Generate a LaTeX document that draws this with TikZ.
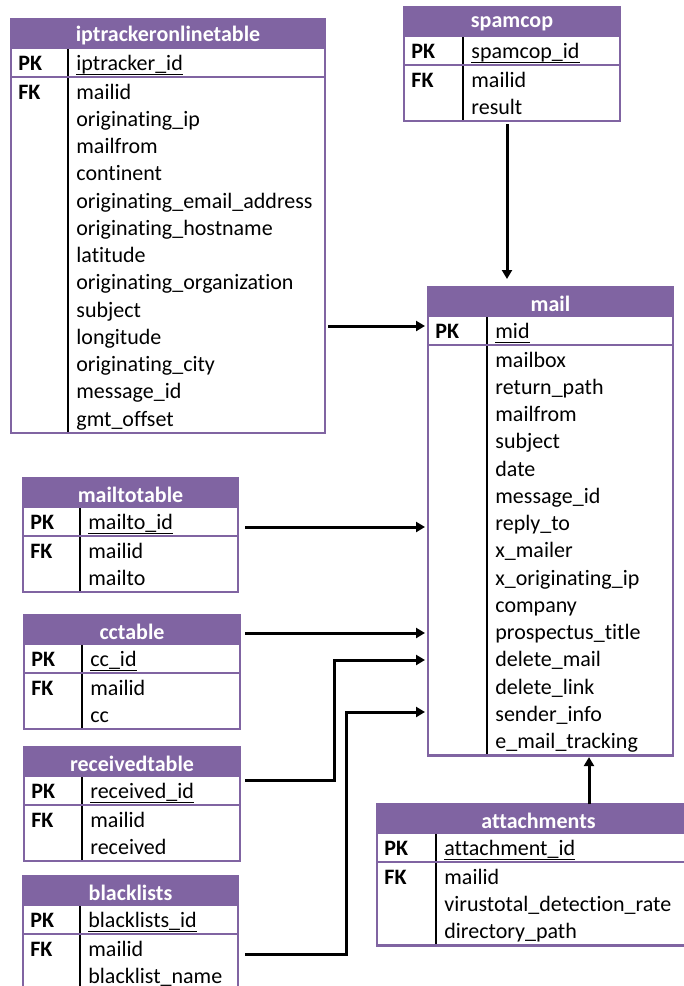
\documentclass[tikz,border=0pt]{standalone}
\usepackage{fontspec}
\setmainfont[Ligatures={NoCommon}]{Carlito}
\usetikzlibrary{arrows.meta,fit}
\definecolor{erdpurple}{HTML}{8064A2}
\newcommand{\erdul}[1]{\setbox0\hbox{#1}\rlap{\rule[-2.4pt]{\wd0}{0.75pt}}\box0}
\tikzset{
 frame/.style={draw=erdpurple, line width=1.2pt},
 divline/.style={draw=black, line width=0.7pt},
 title/.style={text=white, font=\fontsize{11}{13}\selectfont\bfseries, inner sep=0pt},
 keylbl/.style={font=\fontsize{11}{13}\selectfont\bfseries, anchor=west, inner sep=0pt, text height=9.5pt, text depth=2.5pt},
 field/.style={font=\fontsize{11}{13}\selectfont, anchor=west, inner sep=0pt, text height=9.5pt, text depth=2.5pt},
 arr/.style={draw=black, line width=1.5pt, -{Triangle[length=4.5pt,width=5pt]}},
 tbl/.style={inner sep=0pt, outer sep=0pt, draw=none},
}
% name, left, top, right, divider, title, pk, rows, nrows
\newcommand{\erdtable}[9]{%
 \pgfmathsetmacro{\eb}{#3+73+(#9-1)*27.25+14}%
 \pgfmathsetmacro{\ehb}{#3+30}%
 \pgfmathsetmacro{\epk}{#3+58}%
 \pgfmathsetmacro{\epkc}{#3+44.5}%
 \pgfmathsetmacro{\emid}{(#2+#4)/2}%
 \fill[erdpurple] (#2,#3) rectangle (#4,\ehb);
 \draw[divline] (#5,\ehb) -- (#5,\eb);
 \draw[frame] (#2,\epk) -- (#4,\epk);
 \draw[frame] (#2,#3) rectangle (#4,\eb);
 \node[tbl, fit={(#2,#3) (#4,\eb)}] (#1) {};
 \node[title] (#1-title) at (\emid,#3+17) {#6};
 \node[keylbl] (#1-pk) at (#2+7,\epkc) {PK};
 \node[field] (#1-pkf) at (#5+8,\epkc) {\erdul{#7}};
 \foreach \fld [count=\i from 0] in {#8} {
   \node[field] (#1-r\i) at (#5+8, #3+73+\i*27.25) {\fld};
 }
}
\begin{document}
\begin{tikzpicture}[x=0.5pt,y=-0.5pt]
\useasboundingbox (0,0) rectangle (684,986);
\clip (0,0) rectangle (684,986);

\erdtable{ipt}{11}{19}{325}{68}{iptrackeronlinetable}{iptracker\_id}{mailid,originating\_ip,mailfrom,continent,originating\_email\_address,originating\_hostname,latitude,originating\_organization,subject,longitude,originating\_city,message\_id,gmt\_offset}{13}
\node[keylbl] (ipt-fk) at (18,92) {FK};

\erdtable{spam}{404}{7}{620}{463}{spamcop}{spamcop\_id}{mailid,result}{2}
\node[keylbl] (spam-fk) at (411,80) {FK};

\erdtable{mail}{428}{287}{673}{487}{mail}{mid}{mailbox,return\_path,mailfrom,subject,date,message\_id,reply\_to,x\_mailer,x\_originating\_ip,company,prospectus\_title,delete\_mail,delete\_link,sender\_info,e\_mail\_tracking}{15}

\erdtable{mto}{23}{478}{238}{80}{mailtotable}{mailto\_id}{mailid,mailto}{2}
\node[keylbl] (mto-fk) at (30,551) {FK};

\erdtable{cc}{24}{615}{240}{82}{cctable}{cc\_id}{mailid,cc}{2}
\node[keylbl] (cc-fk) at (31,688) {FK};

\erdtable{recv}{24}{747}{240}{82}{receivedtable}{received\_id}{mailid,received}{2}
\node[keylbl] (recv-fk) at (31,820) {FK};

\erdtable{blk}{23}{876}{238}{80}{blacklists}{blacklists\_id}{mailid,blacklist\_name}{2}
\node[keylbl] (blk-fk) at (30,949) {FK};

\erdtable{att}{377}{804}{700}{436}{attachments}{attachment\_id}{mailid,virustotal\_detection\_rate,directory\_path}{3}
\node[keylbl] (att-fk) at (384,877) {FK};

% connectors
\coordinate (sx) at (507,0);
\draw[arr, shorten <=1.5pt, shorten >=4pt] (sx |- spam.south) -- (sx |- mail.north);
\draw[arr, shorten <=1.5pt, shorten >=1.5pt] (ipt.east |- 0,326) -- (mail.west |- 0,326);
\draw[arr, shorten <=3.5pt, shorten >=1.5pt] (mto.east |- 0,527) -- (mail.west |- 0,527);
\draw[arr, shorten <=2.5pt, shorten >=1.5pt] (cc.east |- 0,633) -- (mail.west |- 0,633);
\coordinate (bendR) at (334,660);
\draw[arr, shorten <=2.5pt, shorten >=1.5pt] (recv.east |- 0,780) -| (bendR) -- (mail.west |- bendR);
\coordinate (bendB) at (346,712);
\draw[arr, shorten <=3.5pt, shorten >=1.5pt] (blk.east |- 0,954) -| (bendB) -- (mail.west |- bendB);
\coordinate (ax) at (589,0);
\draw[arr, shorten >=0.8pt] (ax |- att.north) -- (ax |- mail.south);
\end{tikzpicture}
\end{document}
